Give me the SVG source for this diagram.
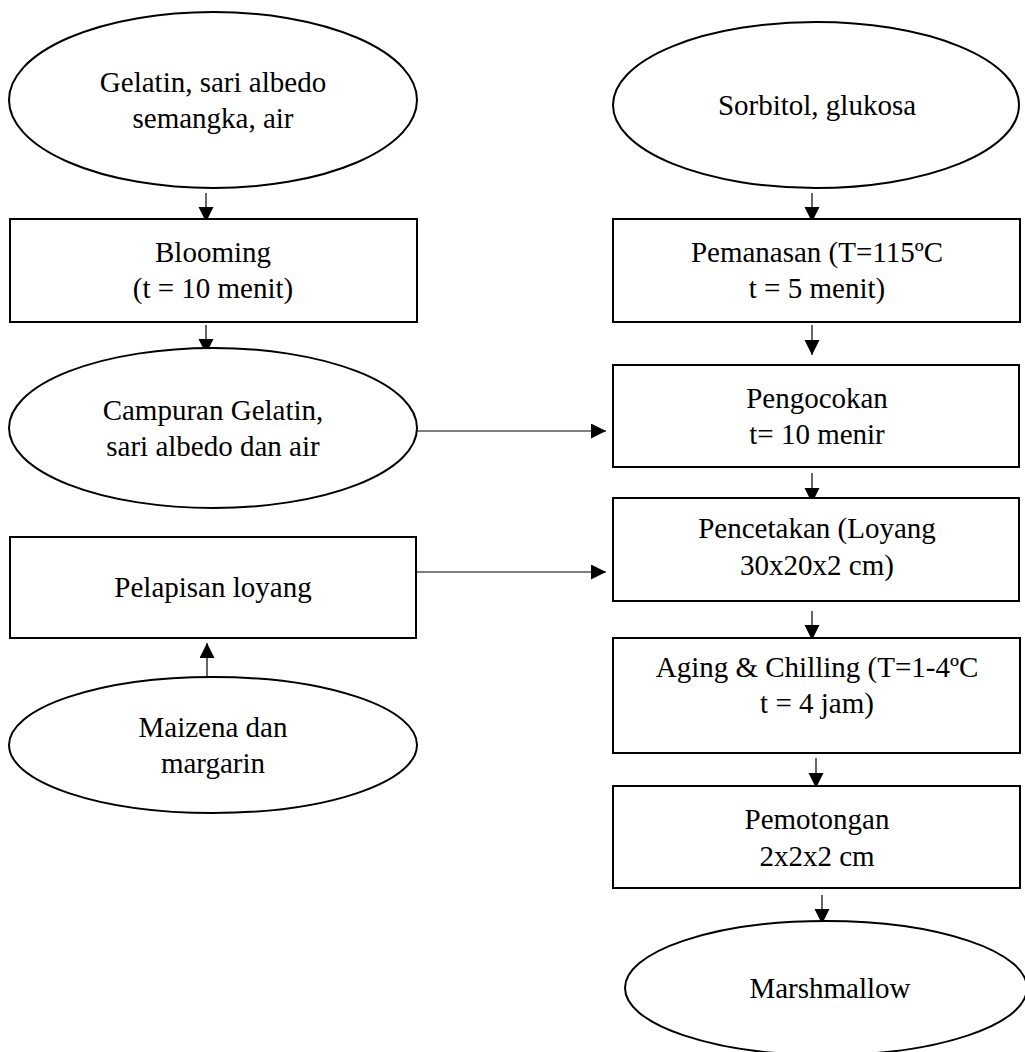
<svg xmlns="http://www.w3.org/2000/svg" width="1025" height="1052" viewBox="0 0 1025 1052">
<defs>
<style>
.n{fill:#fff;stroke:#000;stroke-width:2}
.t{font-family:"Liberation Serif","Times New Roman",serif;font-size:29px;fill:#000;text-anchor:middle}
.c{stroke:#000;stroke-width:1.2;fill:none;marker-end:url(#ah)}
</style>
<marker id="ah" markerUnits="userSpaceOnUse" markerWidth="16" markerHeight="16" refX="15" refY="7.5" orient="auto">
<path d="M0,0 L15,7.5 L0,15 z" fill="#000"/>
</marker>
</defs>
<rect width="1025" height="1052" fill="#fff"/>
<g id="connectors">
<line class="c" x1="206" y1="193" x2="206" y2="222"/>
<line class="c" x1="206" y1="325" x2="206" y2="354"/>
<line class="c" x1="412" y1="431" x2="606" y2="431"/>
<line class="c" x1="412" y1="572" x2="606" y2="572"/>
<line class="c" x1="207" y1="682" x2="207" y2="643"/>
<line class="c" x1="812" y1="193" x2="812" y2="222"/>
<line class="c" x1="812" y1="325" x2="812" y2="355"/>
<line class="c" x1="812" y1="473" x2="812" y2="503"/>
<line class="c" x1="812" y1="611" x2="812" y2="640"/>
<line class="c" x1="816" y1="758" x2="816" y2="788"/>
<line class="c" x1="822" y1="895" x2="822" y2="924"/>
</g>
<g id="n1"><ellipse class="n" cx="213" cy="100" rx="204" ry="88"/><text class="t" x="213" y="92">Gelatin, sari albedo</text><text class="t" x="213" y="128">semangka, air</text></g>
<g id="n2"><rect class="n" x="10" y="219" width="407" height="103"/><text class="t" x="213" y="262">Blooming</text><text class="t" x="213" y="298">(t = 10 menit)</text></g>
<g id="n3"><ellipse class="n" cx="213" cy="428" rx="204" ry="80"/><text class="t" x="213" y="420">Campuran Gelatin,</text><text class="t" x="213" y="456">sari albedo dan air</text></g>
<g id="n4"><rect class="n" x="10" y="537" width="406" height="101"/><text class="t" x="213" y="597">Pelapisan loyang</text></g>
<g id="n5"><ellipse class="n" cx="213" cy="745" rx="204" ry="68"/><text class="t" x="213" y="737">Maizena dan</text><text class="t" x="213" y="773">margarin</text></g>
<g id="n6"><ellipse class="n" cx="816" cy="105" rx="203" ry="83"/><text class="t" x="817" y="115">Sorbitol, glukosa</text></g>
<g id="n7"><rect class="n" x="613" y="219" width="407" height="103"/><text class="t" x="817" y="262">Pemanasan (T=115ºC</text><text class="t" x="817" y="298">t = 5 menit)</text></g>
<g id="n8"><rect class="n" x="613" y="365" width="406" height="102"/><text class="t" x="817" y="408">Pengocokan</text><text class="t" x="817" y="444">t= 10 menir</text></g>
<g id="n9"><rect class="n" x="613" y="498" width="406" height="103"/><text class="t" x="817" y="538">Pencetakan (Loyang</text><text class="t" x="817" y="575">30x20x2 cm)</text></g>
<g id="n10"><rect class="n" x="613" y="638" width="407" height="115"/><text class="t" x="817" y="677">Aging &amp; Chilling (T=1-4ºC</text><text class="t" x="817" y="713">t = 4 jam)</text></g>
<g id="n11"><rect class="n" x="613" y="786" width="407" height="102"/><text class="t" x="817" y="829">Pemotongan</text><text class="t" x="817" y="866">2x2x2 cm</text></g>
<g id="n12"><ellipse class="n" cx="826" cy="988" rx="201" ry="67"/><text class="t" x="830" y="998">Marshmallow</text></g>
</svg>
